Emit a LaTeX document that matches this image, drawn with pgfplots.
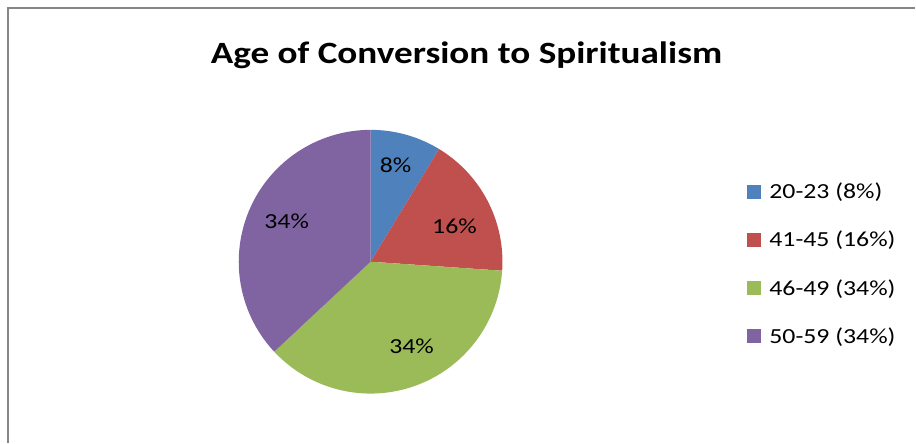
\documentclass[border=0pt]{standalone}
\usepackage{pgfplots}
\pgfplotsset{compat=1.18}
\usepackage{fontspec}
\setmainfont{Carlito}[FakeStretch=1.2]
\definecolor{cblue}{HTML}{4F81BD}
\definecolor{cred}{HTML}{C0504D}
\definecolor{cgreen}{HTML}{9BBB59}
\definecolor{cpurple}{HTML}{8064A2}
\definecolor{frame}{HTML}{868686}
% slice values
\def\vA{8}\def\vB{16}\def\vC{34}\def\vD{34}
\pgfmathsetmacro{\total}{\vA+\vB+\vC+\vD}
\pgfmathsetmacro{\aA}{90}
\pgfmathsetmacro{\aB}{\aA-360*\vA/\total}
\pgfmathsetmacro{\aC}{\aB-360*\vB/\total}
\pgfmathsetmacro{\aD}{\aC-360*\vC/\total}
\pgfmathsetmacro{\aE}{\aD-360*\vD/\total}
\newcommand{\lbl}{\fontsize{21.5}{26}\selectfont}
\begin{document}
\begin{tikzpicture}
\begin{axis}[
  scale only axis, width=916pt, height=443pt,
  xmin=0, xmax=916, ymin=0, ymax=443,
  hide axis, clip=false,
  legend style={at={(axis cs:748,262)}, anchor=north west, draw=none, fill=none,
    font=\lbl, row sep=27pt, inner sep=0pt,
    /tikz/every odd column/.append style={column sep=6pt}},
  legend cell align=left,
  legend image code/.code={\path[#1, draw=none] (0pt,-7pt) rectangle (14pt,7pt);},
]
\path (axis cs:0,0) rectangle (axis cs:916,443);
\addplot[fill=cblue, draw=none, domain=\aB:\aA, samples=40, variable=\t]
  ({371+132*cos(\t)},{181+132*sin(\t)}) -- (axis cs:371,181) -- cycle;
\addlegendentry{20-23 (8\%)}
\addplot[fill=cred, draw=none, domain=\aC:\aB, samples=60, variable=\t]
  ({371+132*cos(\t)},{181+132*sin(\t)}) -- (axis cs:371,181) -- cycle;
\addlegendentry{41-45 (16\%)}
\addplot[fill=cgreen, draw=none, domain=\aD:\aC, samples=100, variable=\t]
  ({371+132*cos(\t)},{181+132*sin(\t)}) -- (axis cs:371,181) -- cycle;
\addlegendentry{46-49 (34\%)}
\addplot[fill=cpurple, draw=none, domain=\aE:\aD, samples=100, variable=\t]
  ({371+132*cos(\t)},{181+132*sin(\t)}) -- (axis cs:371,181) -- cycle;
\addlegendentry{50-59 (34\%)}
\draw[frame, line width=2pt] (axis cs:8.5,0) -- (axis cs:8.5,435) -- (axis cs:916,435);
\node[font=\bfseries\fontsize{31}{36}\selectfont] at (axis cs:467,388) {Age of Conversion to Spiritualism};
\node[font=\lbl] at (axis cs:396,278) {8\%};
\node[font=\lbl] at (axis cs:455,216) {16\%};
\node[font=\lbl] at (axis cs:287,221) {34\%};
\node[font=\lbl] at (axis cs:412,96) {34\%};
\end{axis}
\end{tikzpicture}
\end{document}
